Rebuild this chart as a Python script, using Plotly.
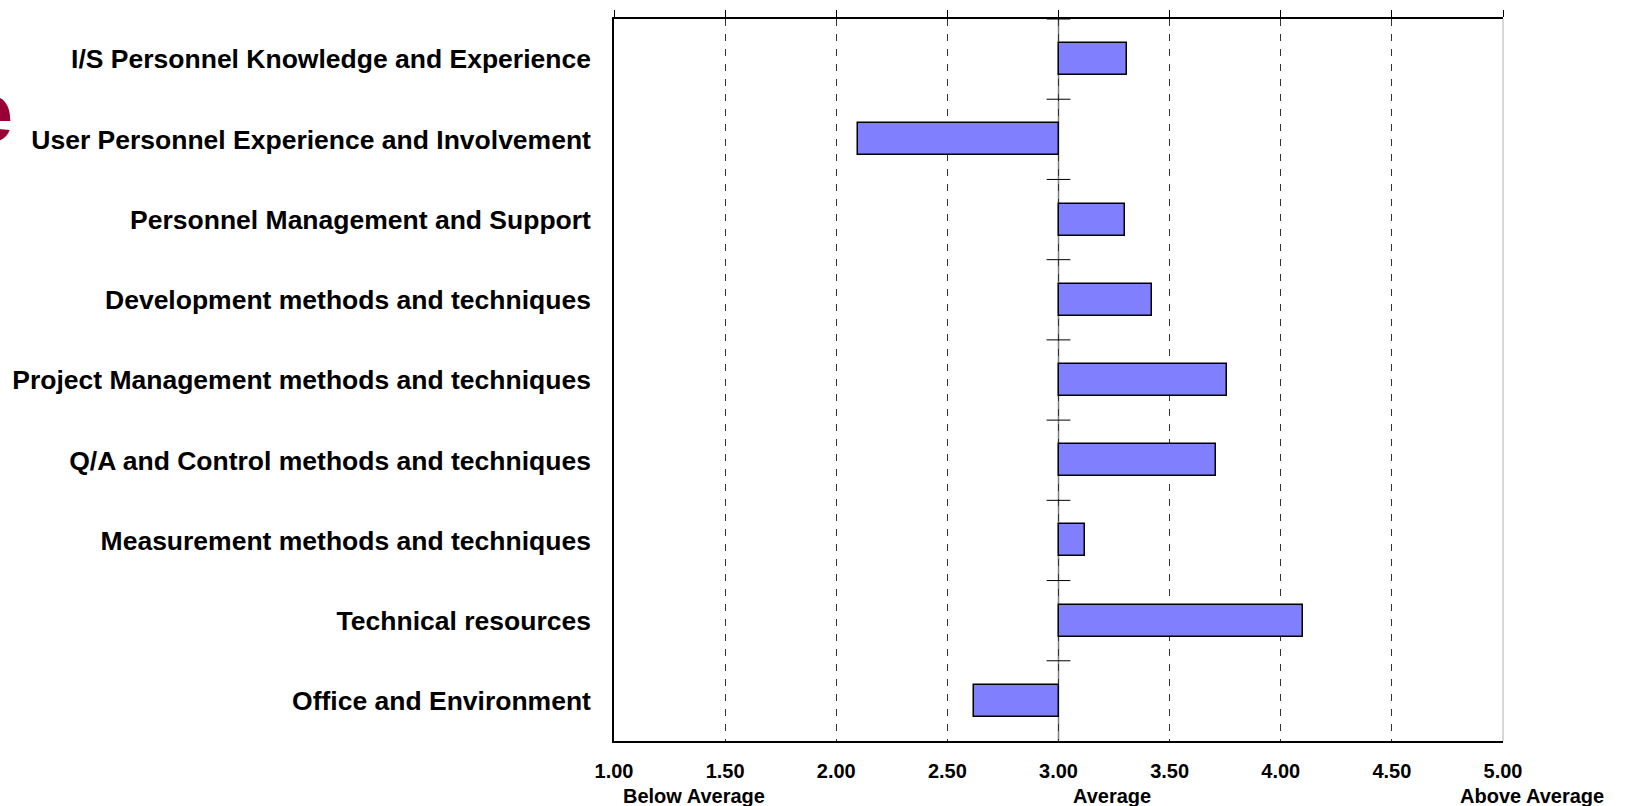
import plotly.graph_objects as go

# Factor categories, top to bottom
categories = [
    "I/S Personnel Knowledge and Experience",
    "User Personnel Experience and Involvement",
    "Personnel Management and Support",
    "Development methods and techniques",
    "Project Management methods and techniques",
    "Q/A and Control methods and techniques",
    "Measurement methods and techniques",
    "Technical resources",
    "Office and Environment",
]
# Mean rating per factor (1 = below average, 3 = average, 5 = above average)
scores = [3.31, 2.10, 3.30, 3.42, 3.76, 3.71, 3.12, 4.10, 2.62]

average = 3.0
x_min, x_max = 1.0, 5.0
x_ticks = [1.0, 1.5, 2.0, 2.5, 3.0, 3.5, 4.0, 4.5, 5.0]
x_tick_text = ["1.00", "1.50", "2.00", "2.50", "3.00", "3.50", "4.00", "4.50", "5.00"]
scale_words = ["Below Average", "Average", "Above Average"]
scale_word_x = [1.36, 3.24, 5.13]

font_family = "Liberation Sans, Arial, sans-serif"
positions = list(range(len(categories)))
boundaries = [p - 0.5 for p in positions]

fig = go.Figure()

# Bars grow left or right from the average
fig.add_trace(go.Bar(
    y=positions,
    x=[s - average for s in scores],
    base=average,
    orientation="h",
    width=0.4,
    marker=dict(color="#8080FF", line=dict(color="#000000", width=1.5)),
    showlegend=False,
    hoverinfo="skip",
))

# Category separators crossing the average line
fig.add_trace(go.Scatter(
    x=[average] * len(boundaries),
    y=boundaries,
    xaxis="x2",
    mode="markers",
    marker=dict(symbol="line-ew", size=17, line=dict(color="#000000", width=1)),
    showlegend=False,
    hoverinfo="skip",
))

fig.update_layout(
    width=1630,
    height=806,
    margin=dict(l=611, r=127, t=12, b=65),
    paper_bgcolor="white",
    plot_bgcolor="white",
    bargap=0,
    xaxis=dict(
        range=[x_min, x_max],
        tickvals=x_ticks,
        ticktext=x_tick_text,
        showgrid=True,
        gridcolor="#333333",
        gridwidth=1,
        griddash="7px,8px",
        zeroline=False,
        showline=True,
        linecolor="#000000",
        linewidth=1.5,
        ticks="outside",
        ticklen=11,
        tickcolor="rgba(0,0,0,0)",
        tickfont=dict(family=font_family, size=20, color="#000000", weight="bold"),
        fixedrange=True,
    ),
    xaxis2=dict(
        range=[x_min, x_max],
        overlaying="x",
        side="top",
        anchor="y",
        tickvals=x_ticks,
        showticklabels=False,
        ticks="outside",
        ticklen=7,
        tickcolor="#000000",
        tickwidth=1,
        showgrid=False,
        zeroline=False,
        showline=True,
        linecolor="#000000",
        linewidth=1.5,
    ),
    yaxis=dict(
        range=[len(categories) - 0.5, -0.5],
        tickvals=positions,
        ticktext=categories,
        showgrid=False,
        zeroline=False,
        showline=True,
        linecolor="#000000",
        linewidth=1.5,
        ticks="outside",
        ticklen=16,
        tickcolor="rgba(0,0,0,0)",
        tickfont=dict(family=font_family, size=26.5, color="#000000", weight="bold"),
        fixedrange=True,
    ),
    shapes=[
        # average reference line
        dict(type="line", xref="x", yref="paper", x0=average, x1=average, y0=0, y1=1,
             line=dict(color="#7f7f7f", width=1.5), layer="below"),
        # right frame edge
        dict(type="line", xref="paper", yref="paper", x0=1, x1=1, y0=0, y1=1,
             line=dict(color="#b0b0b0", width=1), layer="below"),
    ],
)

# Verbal scale under the numeric ticks
for word, wx in zip(scale_words, scale_word_x):
    fig.add_annotation(
        x=(wx - x_min) / (x_max - x_min), y=-0.0674, xref="paper", yref="paper",
        yshift=-6, text=word, showarrow=False,
        xanchor="center", yanchor="middle",
        font=dict(family=font_family, size=20, color="#000000", weight="bold"),
    )

# Edge of the slide title lettering
fig.add_annotation(
    x=0, y=0.865, xref="paper", yref="paper",
    xshift=-599, yshift=4, text="e", showarrow=False,
    xanchor="right", yanchor="middle",
    font=dict(family=font_family, size=83, color="#990033", weight="bold"),
)

fig.write_html("out.html")
